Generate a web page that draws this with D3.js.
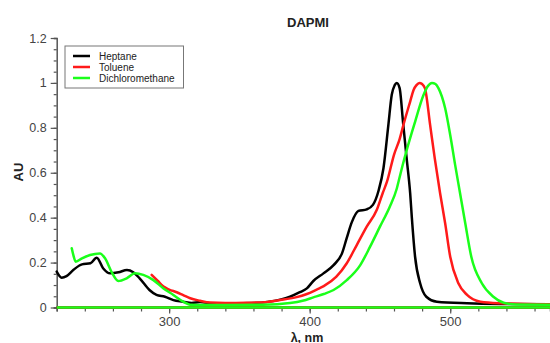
<!DOCTYPE html>
<html>
<head>
<meta charset="utf-8">
<script src="https://cdn.jsdelivr.net/npm/d3@7"></script>
<style>
  body { margin: 0; background: #fff; }
  svg { display: block; font-family: "Liberation Sans", Arial, Helvetica, sans-serif; }
</style>
</head>
<body>
<div id="chart"></div>
<script>
// absorbance spectra, [wavelength nm, AU]
const heptane = [
  [220,0.16],[223.5,0.133],[227,0.14],[232,0.168],[238,0.192],[244,0.197],[248.5,0.222],
  [253,0.175],[258,0.152],[264,0.157],[270,0.167],[274.5,0.157],[279,0.130],[286,0.078],
  [291,0.056],[297,0.048],[303,0.033],[310,0.026],[316,0.02],[322,0.024],[331,0.019],
  [345,0.018],[360,0.02],[370,0.025],[379,0.035],[386,0.048],[393,0.068],[398,0.085],
  [402.6,0.118],[409.8,0.152],[417,0.189],[423,0.241],[426.4,0.31],[430,0.38],[434.7,0.43],
  [440.6,0.437],[445,0.457],[449,0.52],[452.5,0.62],[456,0.813],[458.4,0.947],[460.5,0.99],
  [462,1.0],[464,0.977],[466.5,0.82],[469,0.664],[471.5,0.509],[472.7,0.4],[475,0.226],
  [478.6,0.108],[483,0.048],[490.5,0.026],[512,0.019],[535,0.016],[571,0.015]
];
const toluene = [
  [287.6,0.145],[292,0.118],[296,0.093],[300,0.08],[305.4,0.068],[310,0.055],[315,0.041],
  [322,0.03],[329,0.022],[340,0.02],[355,0.021],[370,0.025],[379,0.033],[390,0.045],
  [398,0.06],[405,0.08],[410,0.095],[419,0.137],[426.4,0.197],[433.5,0.278],[440.6,0.36],
  [447.7,0.434],[452,0.51],[455,0.56],[460,0.68],[464,0.75],[467,0.82],[471.5,0.917],
  [474,0.97],[476,0.99],[478,1.0],[480,0.995],[482,0.977],[485.7,0.813],[489,0.664],
  [492.8,0.509],[496.4,0.375],[500,0.226],[505.8,0.108],[512,0.056],[521.5,0.026],
  [535.5,0.019],[571,0.014]
];
const dichloromethane = [
  [230.7,0.264],[232,0.23],[233.5,0.204],[238,0.219],[243.7,0.234],[250.8,0.241],
  [254.4,0.219],[259,0.159],[263.8,0.118],[269.8,0.13],[275.7,0.152],[281.6,0.145],
  [288.8,0.122],[296,0.085],[303,0.056],[310,0.026],[316,0.012],[325,0.011],[340,0.011],
  [367,0.012],[386,0.02],[395,0.03],[402.6,0.045],[410,0.06],[417,0.078],[426.4,0.122],
  [436,0.189],[443,0.271],[450,0.36],[457,0.449],[462,0.53],[464,0.58],[466,0.63],
  [469,0.7],[475,0.827],[481,0.946],[484,0.985],[487,1.0],[489.5,0.995],[491.6,0.977],
  [496.4,0.887],[500,0.768],[503.5,0.635],[507,0.509],[510.7,0.375],[515,0.226],
  [522.5,0.108],[530.7,0.048],[538,0.021],[547,0.013],[571,0.012]
];
// flat zero trace that each spectrum also has
const zeroTrace = [[220,0],[571,0]];

const seriesNames = ['Heptane', 'Toluene', 'Dichloromethane'];
const seriesColors = ['#000000', '#ff1a1a', '#1aff1a'];
const seriesData = [heptane, toluene, dichloromethane];

const xMajorTicks = [300, 400, 500];
const yMajorTicks = [0, 0.2, 0.4, 0.6, 0.8, 1, 1.2];

const width = 550, height = 343;
const margin = {left: 56.7, right: 0, top: 38, bottom: 35.5};

const x = d3.scaleLinear().domain([220, 571]).range([margin.left, width - margin.right]);
const y = d3.scaleLinear().domain([0, 1.2]).range([height - margin.bottom, margin.top]);

const svg = d3.select('#chart').append('svg')
  .attr('width', width)
  .attr('height', height);

const axisColor = '#555';

// x axis: minor ticks every 20 nm, labels at 100s
const xAxis = svg.append('g').attr('transform', `translate(0,${y(0)})`);
xAxis.call(d3.axisBottom(x).tickValues(d3.range(220, 571, 20)).tickSize(4).tickFormat(''));
xAxis.append('g').call(d3.axisBottom(x).tickValues(xMajorTicks).tickSize(6).tickPadding(3.5));
xAxis.selectAll('.domain').attr('stroke', axisColor).attr('stroke-width', 1.5);
xAxis.selectAll('.tick line').attr('stroke', axisColor).attr('stroke-width', 1.2);
xAxis.selectAll('.tick text').attr('font-size', 13).attr('fill', '#444').attr('font-family', null);
xAxis.selectAll('g > g > .domain').remove();

// y axis: minor ticks every 0.05
const yAxis = svg.append('g').attr('transform', `translate(${x(220)},0)`);
yAxis.call(d3.axisLeft(y).tickValues(d3.range(0, 1.2001, 0.05)).tickSize(3).tickFormat(''));
yAxis.append('g').call(d3.axisLeft(y).tickValues(yMajorTicks).tickSize(6).tickPadding(4)
  .tickFormat(d3.format('~g')));
yAxis.selectAll('.domain').attr('stroke', axisColor).attr('stroke-width', 1.5);
yAxis.selectAll('.tick line').attr('stroke', axisColor).attr('stroke-width', 1.2);
yAxis.selectAll('.tick text').attr('font-size', 12.5).attr('fill', '#444').attr('font-family', null);
yAxis.selectAll('g > g > .domain').remove();

const line = d3.line()
  .x(d => x(d[0]))
  .y(d => y(d[1]))
  .curve(d3.curveMonotoneX);

const plot = svg.append('g');

seriesData.forEach((data, i) => {
  plot.append('path')
    .datum(zeroTrace)
    .attr('fill', 'none')
    .attr('stroke', seriesColors[i])
    .attr('stroke-width', 2.5)
    .attr('d', line);
});

seriesData.forEach((data, i) => {
  plot.append('path')
    .datum(data)
    .attr('fill', 'none')
    .attr('stroke', seriesColors[i])
    .attr('stroke-width', 2.5)
    .attr('stroke-linejoin', 'round')
    .attr('stroke-linecap', 'round')
    .attr('d', line);
});

// titles
svg.append('text')
  .attr('x', 308).attr('y', 27)
  .attr('text-anchor', 'middle')
  .attr('font-size', 13).attr('font-weight', 'bold').attr('fill', '#222')
  .text('DAPMI');

svg.append('text')
  .attr('x', 307).attr('y', 341.5)
  .attr('text-anchor', 'middle')
  .attr('font-size', 12.5).attr('font-weight', 'bold').attr('fill', '#222')
  .text('λ, nm');

svg.append('text')
  .attr('transform', 'translate(23,172) rotate(-90)')
  .attr('text-anchor', 'middle')
  .attr('font-size', 13).attr('font-weight', 'bold').attr('fill', '#222')
  .text('AU');

// legend
const legend = svg.append('g').attr('transform', 'translate(65,46)');
legend.append('rect')
  .attr('width', 118.5).attr('height', 42)
  .attr('fill', '#fff').attr('stroke', '#777').attr('stroke-width', 1);
seriesNames.forEach((name, i) => {
  const row = legend.append('g').attr('transform', `translate(0,${10 + i * 11})`);
  row.append('line')
    .attr('x1', 8).attr('x2', 25)
    .attr('stroke', seriesColors[i]).attr('stroke-width', 2.5);
  row.append('text')
    .attr('x', 34).attr('y', 4)
    .attr('font-size', 10).attr('fill', '#222')
    .text(name);
});
</script>
</body>
</html>
